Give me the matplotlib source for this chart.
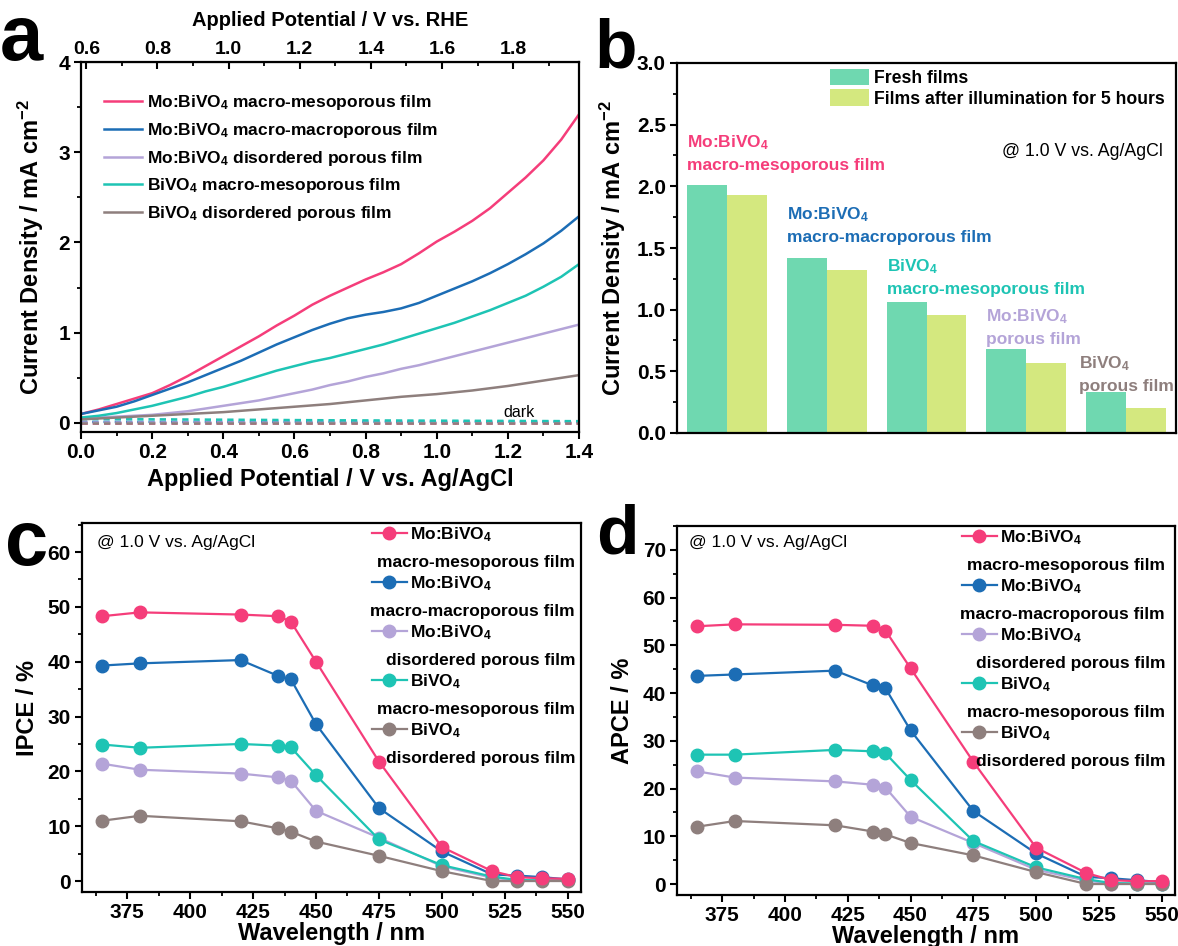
import matplotlib
matplotlib.use("Agg")
import matplotlib.pyplot as plt
from matplotlib.ticker import MultipleLocator, FixedLocator
import numpy as np

plt.rcParams['font.family'] = ['Liberation Sans', 'DejaVu Sans']
plt.rcParams['font.weight'] = 'bold'
plt.rcParams['mathtext.fontset'] = 'custom'
plt.rcParams['mathtext.rm'] = 'Liberation Sans:bold'
plt.rcParams['mathtext.bf'] = 'Liberation Sans:bold'
plt.rcParams['mathtext.default'] = 'rm'

# ---------------- data ----------------
colors = ['#f53d7a', '#1c6db5', '#b4a4d8', '#1ec4b4', '#8e7f7d']
series_labels_a = ['Mo:BiVO$_4$ macro-mesoporous film',
                   'Mo:BiVO$_4$ macro-macroporous film',
                   'Mo:BiVO$_4$ disordered porous film',
                   'BiVO$_4$ macro-mesoporous film',
                   'BiVO$_4$ disordered porous film']

# panel a: J-V curves
potential = [0.00, 0.05, 0.10, 0.15, 0.20, 0.25, 0.30, 0.35, 0.40, 0.45,
             0.50, 0.55, 0.60, 0.65, 0.70, 0.75, 0.80, 0.85, 0.90, 0.95,
             1.00, 1.05, 1.10, 1.15, 1.20, 1.25, 1.30, 1.35, 1.40]
j_mo_macro_meso = [0.10, 0.15, 0.21, 0.27, 0.33, 0.42, 0.52, 0.63, 0.74, 0.85,
                   0.96, 1.08, 1.19, 1.31, 1.41, 1.50, 1.59, 1.67, 1.76, 1.88,
                   2.01, 2.12, 2.24, 2.38, 2.55, 2.72, 2.91, 3.14, 3.42]
j_mo_macro_macro = [0.10, 0.14, 0.18, 0.24, 0.31, 0.38, 0.45, 0.53, 0.61, 0.69,
                    0.78, 0.87, 0.95, 1.03, 1.10, 1.16, 1.20, 1.23, 1.27, 1.33,
                    1.41, 1.49, 1.57, 1.66, 1.76, 1.87, 1.99, 2.13, 2.29]
j_mo_disordered = [0.05, 0.06, 0.07, 0.08, 0.09, 0.11, 0.13, 0.16, 0.19, 0.22,
                   0.25, 0.29, 0.33, 0.37, 0.42, 0.46, 0.51, 0.55, 0.60, 0.64,
                   0.69, 0.74, 0.79, 0.84, 0.89, 0.94, 0.99, 1.04, 1.09]
j_bvo_macro_meso = [0.06, 0.08, 0.11, 0.15, 0.19, 0.24, 0.29, 0.35, 0.40, 0.46,
                    0.52, 0.58, 0.63, 0.68, 0.72, 0.77, 0.82, 0.87, 0.93, 0.99,
                    1.05, 1.11, 1.18, 1.25, 1.33, 1.41, 1.51, 1.62, 1.76]
j_bvo_disordered = [0.04, 0.05, 0.06, 0.07, 0.08, 0.09, 0.10, 0.11, 0.12, 0.135,
                    0.15, 0.165, 0.18, 0.195, 0.21, 0.23, 0.25, 0.27, 0.29, 0.305,
                    0.32, 0.34, 0.36, 0.385, 0.41, 0.44, 0.47, 0.50, 0.53]
dark_potential = [0.0, 0.7, 1.4]
dark_mo_macro_meso = [0.0, 0.0, 0.0]
dark_mo_macro_macro = [0.012, 0.012, 0.015]
dark_mo_disordered = [0.01, 0.01, 0.01]
dark_bvo_macro_meso = [0.045, 0.03, 0.02]
dark_bvo_disordered = [0.005, 0.005, 0.005]
rhe_offset = 0.585
rhe_ticks = [0.6, 0.8, 1.0, 1.2, 1.4, 1.6, 1.8]
rhe_minor = [0.7, 0.9, 1.1, 1.3, 1.5, 1.7, 1.9]

# panel b: bars
bar_categories = ['Mo:BiVO$_4$\nmacro-mesoporous film',
                  'Mo:BiVO$_4$\nmacro-macroporous film',
                  'BiVO$_4$\nmacro-mesoporous film',
                  'Mo:BiVO$_4$\nporous film',
                  'BiVO$_4$\nporous film']
bar_colors_idx = [0, 1, 3, 2, 4]
fresh = [2.01, 1.42, 1.06, 0.68, 0.33]
after5h = [1.93, 1.32, 0.96, 0.57, 0.20]
bar_legend = ['Fresh films', 'Films after illumination for 5 hours']

# panels c, d
wavelength = [365, 380, 420, 435, 440, 450, 475, 500, 520, 530, 540, 550]
ipce = [
    [48.3, 49.0, 48.6, 48.3, 47.3, 40.0, 21.8, 6.2, 1.8, 0.7, 0.5, 0.4],
    [39.3, 39.7, 40.3, 37.4, 36.8, 28.6, 13.3, 5.4, 1.2, 1.0, 0.7, 0.3],
    [21.4, 20.3, 19.6, 18.9, 18.3, 12.8, 7.9, 2.7, 0.6, 0.1, 0.1, 0.1],
    [24.9, 24.3, 25.0, 24.7, 24.4, 19.3, 7.6, 2.9, 0.8, 0.2, 0.1, 0.1],
    [11.0, 11.9, 10.9, 9.6, 9.0, 7.2, 4.6, 1.8, 0.0, 0.0, 0.0, 0.0],
]
apce = [
    [54.0, 54.4, 54.3, 54.1, 53.1, 45.2, 25.6, 7.6, 2.3, 0.8, 0.6, 0.6],
    [43.6, 43.9, 44.7, 41.6, 41.0, 32.2, 15.3, 6.4, 1.5, 1.2, 0.8, 0.4],
    [23.6, 22.3, 21.5, 20.8, 20.2, 14.1, 8.6, 3.0, 0.7, 0.1, 0.1, 0.1],
    [27.1, 27.1, 28.1, 27.8, 27.4, 21.8, 9.0, 3.5, 1.0, 0.2, 0.1, 0.1],
    [12.0, 13.2, 12.3, 11.0, 10.4, 8.6, 6.0, 2.5, 0.0, 0.0, 0.0, 0.0],
]
legend_first = ['Mo:BiVO$_4$', 'Mo:BiVO$_4$', 'Mo:BiVO$_4$', 'BiVO$_4$', 'BiVO$_4$']
legend_second = ['macro-mesoporous film', 'macro-macroporous film',
                 'disordered porous film', 'macro-mesoporous film',
                 'disordered porous film']
cond_text = '@ 1.0 V vs. Ag/AgCl'

# ---------------- figure ----------------
W, H = 1178, 946
fig = plt.figure(figsize=(W / 100, H / 100), dpi=100)

def frac(l, t, r, b):
    return [l / W, 1 - b / H, (r - l) / W, (b - t) / H]

TICK_FS = 15
LABEL_FS = 17

def style(ax):
    for s in ax.spines.values():
        s.set_linewidth(1.6)
    ax.tick_params(which='major', direction='out', length=5, width=1.5,
                   labelsize=TICK_FS, top=False, right=False, pad=3)
    ax.tick_params(which='minor', direction='out', length=3, width=1.3,
                   top=False, right=False)
    for lab in ax.get_xticklabels() + ax.get_yticklabels():
        lab.set_fontweight('bold')

# ---- panel a ----
axa = fig.add_axes(frac(81, 62, 579, 432))
jv = [j_mo_macro_meso, j_mo_macro_macro, j_mo_disordered, j_bvo_macro_meso, j_bvo_disordered]
dark = [dark_mo_macro_meso, dark_mo_macro_macro, dark_mo_disordered, dark_bvo_macro_meso, dark_bvo_disordered]
for k in range(5):
    axa.plot(dark_potential, dark[k], ls=(0, (2.5, 2)), lw=1.8, color=colors[k])
for k in range(5):
    axa.plot(potential, jv[k], lw=1.8, color=colors[k], label=series_labels_a[k])
axa.set_xlim(0, 1.4)
axa.set_ylim(-0.1, 4.0)
axa.xaxis.set_major_locator(MultipleLocator(0.2))
axa.xaxis.set_minor_locator(MultipleLocator(0.1))
axa.yaxis.set_major_locator(MultipleLocator(1))
axa.yaxis.set_minor_locator(MultipleLocator(0.5))
style(axa)
axa.set_xlabel('Applied Potential / V vs. Ag/AgCl', fontsize=LABEL_FS, fontweight='bold', labelpad=4)
axa.set_ylabel('Current Density / mA cm$^{-2}$', fontsize=LABEL_FS, fontweight='bold', labelpad=9)
sec = axa.secondary_xaxis('top', functions=(lambda x: x + rhe_offset, lambda x: x - rhe_offset))
sec.xaxis.set_major_locator(FixedLocator(rhe_ticks))
sec.xaxis.set_minor_locator(FixedLocator(rhe_minor))
sec.tick_params(which='major', direction='in', length=5, width=1.5, labelsize=14, pad=3)
sec.tick_params(which='minor', direction='in', length=3, width=1.3)
for lab in sec.get_xticklabels():
    lab.set_fontweight('bold')
sec.set_xlabel('Applied Potential / V vs. RHE', fontsize=14.5, fontweight='bold', labelpad=11)
axa.text(1.23, 0.035, 'dark', fontsize=11.5, fontweight='normal', ha='center', va='bottom')
axa.legend(loc='upper left', bbox_to_anchor=(0.046, 0.915), frameon=False, fontsize=12.5,
           handlelength=2.2, handletextpad=0.3, labelspacing=0.5, borderaxespad=0, borderpad=0)
fig.text(0.0, 1 - 60 / H, 'a', fontsize=56, fontweight='bold', va='baseline')

# ---- panel b ----
axb = fig.add_axes(frac(677, 63, 1176, 433))
xpos = np.arange(len(fresh))
bw = 0.4
axb.bar(xpos - bw / 2, fresh, width=bw, color='#6fd8b0', label=bar_legend[0])
axb.bar(xpos + bw / 2, after5h, width=bw, color='#d4e87f', label=bar_legend[1])
axb.set_xlim(-0.5, 4.5)
axb.set_ylim(0, 3.0)
axb.yaxis.set_major_locator(MultipleLocator(0.5))
axb.yaxis.set_minor_locator(MultipleLocator(0.25))
style(axb)
axb.set_xticks([])
axb.set_ylabel('Current Density / mA cm$^{-2}$', fontsize=LABEL_FS, fontweight='bold', labelpad=6)
label_offsets = [(0, 9), (0, 9), (0, 4), (0, 1.5), (-5, -1)]
for i, cat in enumerate(bar_categories):
    axb.annotate(cat, xy=(xpos[i] - bw, fresh[i]), xytext=label_offsets[i],
                 textcoords='offset points', ha='left', va='bottom', fontsize=12.5,
                 fontweight='bold', color=colors[bar_colors_idx[i]], linespacing=1.5)
axb.text(0.974, 0.762, cond_text, transform=axb.transAxes, fontsize=12.8,
         fontweight='normal', ha='right', va='center')
axb.legend(loc='upper left', bbox_to_anchor=(0.307, 0.985), frameon=False, fontsize=12.7,
           handlelength=2.2, handleheight=1.1, handletextpad=0.3, labelspacing=0.12,
           borderaxespad=0, borderpad=0)
fig.text(0.505, 1 - 68 / H, 'b', fontsize=50, fontweight='bold', va='baseline')

# ---- panels c & d ----
def eff_panel(rect, data, ylim, ymax_tick, ylabel, letter, letter_fs, letter_xy, leg_x, cond_xy, second_x):
    ax = fig.add_axes(rect)
    for k in range(5):
        ax.plot(wavelength, data[k], '-o', color=colors[k], lw=1.6, ms=9,
                label=legend_first[k], zorder=4 if k == 0 else 3)
    ax.set_xlim(357, 555.3)
    ax.set_ylim(*ylim)
    ax.xaxis.set_major_locator(MultipleLocator(25))
    ax.xaxis.set_minor_locator(MultipleLocator(12.5))
    ax.yaxis.set_major_locator(FixedLocator(list(range(0, ymax_tick + 1, 10))))
    ax.yaxis.set_minor_locator(MultipleLocator(5))
    style(ax)
    ax.set_xlabel('Wavelength / nm', fontsize=LABEL_FS, fontweight='bold', labelpad=0)
    ax.set_ylabel(ylabel, fontsize=LABEL_FS, fontweight='bold', labelpad=6)
    ax.text(cond_xy[0], cond_xy[1], cond_text, transform=ax.transAxes, fontsize=12.5,
            fontweight='normal', ha='left', va='center')
    leg = ax.legend(loc='upper left', bbox_to_anchor=(leg_x, 0.995), frameon=False,
                    fontsize=12.5, handlelength=2.0, handletextpad=0.2, labelspacing=1.75,
                    borderaxespad=0, borderpad=0)
    leg.set_zorder(5)
    for t, s in zip(leg.get_texts(), legend_second):
        ax.annotate(s, xy=(second_x, 0), xycoords=('axes fraction', t), xytext=(0, -8),
                    textcoords='offset points', ha='right', va='top', fontsize=12.5,
                    fontweight='bold', zorder=6)
    fig.text(letter_xy[0], letter_xy[1], letter, fontsize=letter_fs, fontweight='bold', va='baseline')
    return ax

eff_panel(frac(82, 523, 581, 892), ipce, (-2, 65.3), 60, 'IPCE / %', 'c', 56,
          (0.004, 1 - 565 / H), 0.581, (0.03, 0.948), 0.988)
eff_panel(frac(677, 526, 1175, 895), apce, (-2.3, 75), 70, 'APCE / %', 'd', 50,
          (0.506, 1 - 554 / H), 0.572, (0.025, 0.954), 0.98)

fig.savefig('out.png', dpi=100)
